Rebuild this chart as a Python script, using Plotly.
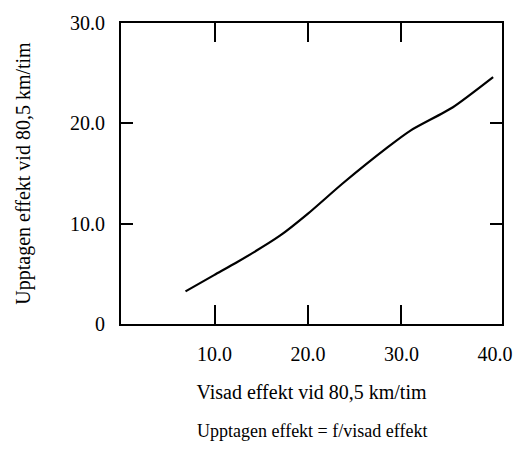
import plotly.graph_objects as go

# Data
visad = [6.9, 10.0, 12.4, 17.0, 20.0, 23.7, 28.5, 31.0, 35.5, 39.8]
upptagen = [3.25, 4.9, 6.15, 8.8, 11.0, 14.0, 17.6, 19.3, 21.6, 24.6]

x_label_vals = [10, 20, 30, 40]
x_label_text = ["10.0", "20.0", "30.0", "40.0"]
x_tick_vals = [10, 20, 30]
y_tick_vals = [0, 10, 20, 30]
y_tick_text = ["0", "10.0", "20.0", "30.0"]

FONT = "Liberation Serif, Times New Roman, serif"
X_RANGE = [0, 40.75]
Y_RANGE = [0, 30]

fig = go.Figure()
fig.add_trace(go.Scatter(x=visad, y=upptagen, mode="lines",
                         line=dict(color="black", width=2.2, shape="spline",
                                   smoothing=0.6),
                         showlegend=False, hoverinfo="skip"))
# invisible trace to anchor the overlay tick axis
fig.add_trace(go.Scatter(x=[None], y=[None], xaxis="x2", yaxis="y",
                         showlegend=False))

fig.update_layout(
    width=531, height=452,
    margin=dict(l=121, r=29, t=19, b=128),
    paper_bgcolor="white", plot_bgcolor="white",
    font=dict(family=FONT, size=17, color="black"),
    xaxis=dict(range=X_RANGE, tickvals=x_label_vals, ticktext=x_label_text,
               ticks="", showgrid=False, zeroline=False,
               tickfont=dict(family=FONT, size=20, color="black"),
               showline=True, linecolor="black", linewidth=2, mirror=True,
               title=dict(text="Visad effekt vid 80,5 km/tim", standoff=21,
                          font=dict(family=FONT, size=20, color="black")),
               ticklabelstandoff=11),
    xaxis2=dict(range=X_RANGE, overlaying="x", side="bottom", anchor="y",
                tickvals=x_tick_vals, ticks="inside", ticklen=19, tickwidth=2,
                tickcolor="black", mirror="ticks", showline=False,
                showticklabels=False, showgrid=False, zeroline=False),
    yaxis=dict(range=Y_RANGE, tickvals=y_tick_vals, ticktext=y_tick_text,
               ticks="inside", ticklen=12, tickwidth=2, tickcolor="black",
               showgrid=False, zeroline=False,
               tickfont=dict(family=FONT, size=20, color="black"),
               showline=True, linecolor="black", linewidth=2, mirror="ticks",
               title=dict(text="Upptagen effekt vid 80,5 km/tim", standoff=34,
                          font=dict(family=FONT, size=20, color="black")),
               ticklabelstandoff=10),
    annotations=[dict(text="Upptagen effekt = f/visad effekt",
                      xref="paper", yref="paper", x=0.5, y=0,
                      yshift=-107, showarrow=False, yanchor="middle",
                      font=dict(family=FONT, size=18, color="black"))],
)

fig.write_html("out.html")
